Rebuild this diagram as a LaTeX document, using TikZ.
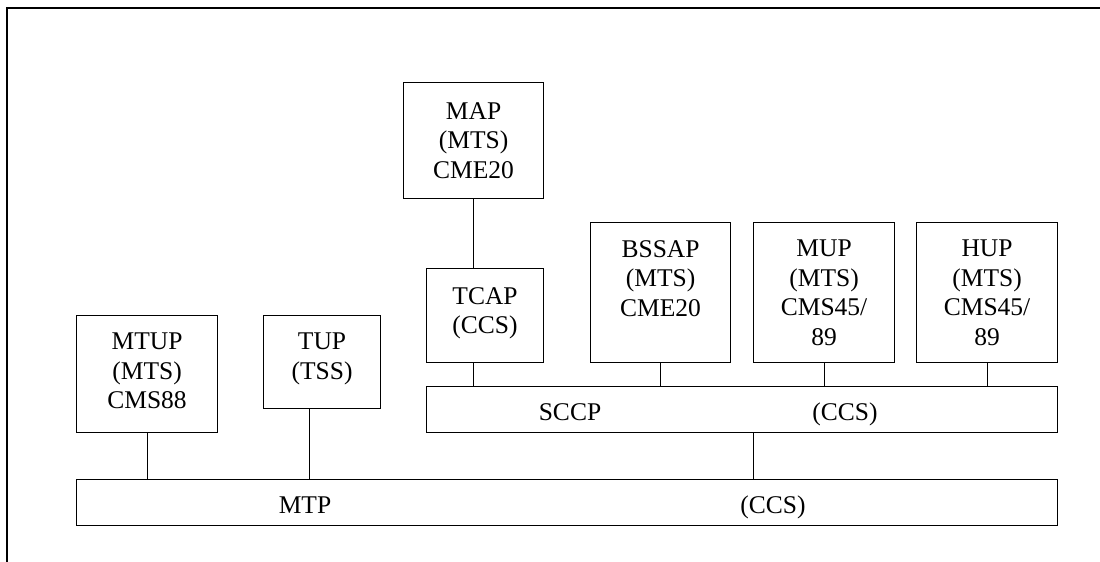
\documentclass[tikz,border=0pt]{standalone}
\usepackage{fontspec}
\setmainfont{Liberation Serif}
\begin{document}
\begin{tikzpicture}[x=1pt,y=-1pt,
  box/.style={draw,line width=1.1pt,inner sep=0pt,anchor=north west},
  lbl/.style={inner sep=0pt,align=center,anchor=north,font=\fontsize{25.5}{29.5}\selectfont},
  bar/.style={inner sep=0pt,anchor=base,font=\fontsize{25.5}{29.5}\selectfont},
  link/.style={line width=1.1pt},
  frame/.style={line width=2pt}]
\useasboundingbox (0,0) rectangle (1100,562);
% frame
\coordinate (ftl) at (7,8);
\coordinate (ftr) at (1100,8);
\coordinate (fbl) at (7,562);
\draw[frame] (ftr) -- (ftl) -- (fbl);
% boxes
\node[box,minimum width=140pt,minimum height=116pt] (map) at (403,82) {};
\node[box,minimum width=117pt,minimum height=94pt] (tcap) at (426,268) {};
\node[box,minimum width=140pt,minimum height=140pt] (bssap) at (590,222) {};
\node[box,minimum width=141pt,minimum height=140pt] (mup) at (753,222) {};
\node[box,minimum width=141pt,minimum height=140pt] (hup) at (916,222) {};
\node[box,minimum width=631pt,minimum height=46pt] (sccp) at (426,386) {};
\node[box,minimum width=141pt,minimum height=117pt] (mtup) at (76,315) {};
\node[box,minimum width=117pt,minimum height=93pt] (tup) at (263,315) {};
\node[box,minimum width=981pt,minimum height=46pt] (mtp) at (76,479) {};
% texts
\node[lbl] (tmap) at ([yshift=-20]map.north) {MAP\\(MTS)\\CME20};
\node[lbl] (ttcap) at ([yshift=-19]tcap.north) {TCAP\\(CCS)};
\node[lbl] (tbssap) at ([yshift=-18]bssap.north) {BSSAP\\(MTS)\\CME20};
\node[lbl] (tmup) at ([yshift=-18]mup.north) {MUP\\(MTS)\\CMS45/\\89};
\node[lbl] (thup) at ([yshift=-18]hup.north) {HUP\\(MTS)\\CMS45/\\89};
\node[lbl] (tmtup) at ([yshift=-18]mtup.north) {MTUP\\(MTS)\\CMS88};
\node[lbl] (ttup) at ([yshift=-18]tup.north) {TUP\\(TSS)};
\node[bar] (tsccp) at (570,420) {SCCP};
\node[bar] (tsccp2) at (845,420) {(CCS)};
\node[bar] (tmtp) at (305,513) {MTP};
\node[bar] (tmtp2) at (773,513) {(CCS)};
% connectors
\draw[link] (map.south) -- (map.south |- tcap.north);
\draw[link] (map.south |- tcap.south) -- (map.south |- sccp.north);
\draw[link] (bssap.south) -- (bssap.south |- sccp.north);
\draw[link] (mup.south) -- (mup.south |- sccp.north);
\draw[link] (hup.south) -- (hup.south |- sccp.north);
\draw[link] ([xshift=11.5]sccp.south) -- ([xshift=11.5]sccp.south |- mtp.north);
\draw[link] (mtup.south) -- (mtup.south |- mtp.north);
\draw[link] ([xshift=-12.2]tup.south) -- ([xshift=-12.2]tup.south |- mtp.north);
\end{tikzpicture}
\end{document}
